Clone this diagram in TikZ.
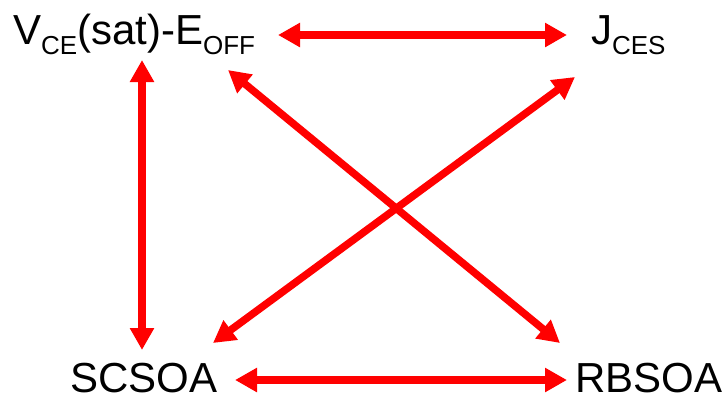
\documentclass[tikz,border=0pt]{standalone}
\usepackage{fontspec}
\setmainfont{Liberation Sans}
\usetikzlibrary{arrows.meta}
\newcommand{\mysub}[1]{\raisebox{-10pt}{\fontsize{26}{26}\selectfont #1}}
\begin{document}
\begin{tikzpicture}[x=1pt,y=-1pt,
  lbl/.style={anchor=base west,inner sep=0pt,outer sep=0pt,font=\fontsize{42}{42}\selectfont},
  rarrow/.style={draw=red,line width=7.5pt,{Triangle[length=22pt,width=23pt]}-{Triangle[length=22pt,width=23pt]},fill=red}]
\useasboundingbox (0,0) rectangle (724,400);
\node[lbl] (vce) at (13,44) {V\mysub{CE}(sat)-E\mysub{OFF}};
\node[lbl] (jces) at (591,44) {J\mysub{CES}};
\node[lbl] (scsoa) at (70,392) {SCSOA};
\node[lbl] (rbsoa) at (575,392) {RBSOA};
\coordinate (t1) at (278,35);
\coordinate (t2) at (567,35);
\coordinate (l1) at (142,60);
\coordinate (l2) at (142,350);
\coordinate (b1) at (235,380);
\coordinate (b2) at (567,380);
\coordinate (d1a) at (228,70);
\coordinate (d1b) at (560,343);
\coordinate (d2a) at (575,77);
\coordinate (d2b) at (213,343);
\draw[rarrow] (t1) -- (t2);
\draw[rarrow] (l1) -- (l2);
\draw[rarrow] (b1) -- (b2);
\draw[rarrow] (d1a) -- (d1b);
\draw[rarrow] (d2a) -- (d2b);
\end{tikzpicture}
\end{document}
